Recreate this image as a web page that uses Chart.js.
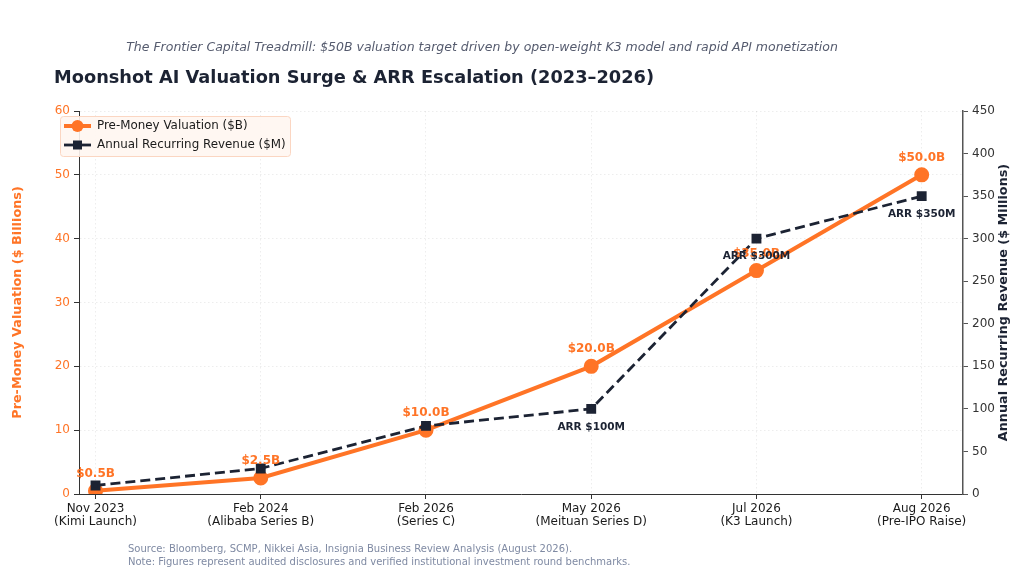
<!DOCTYPE html>
<html>
<head>
<meta charset="utf-8">
<script src="https://cdn.jsdelivr.net/npm/chart.js@4.4.1/dist/chart.umd.min.js"></script>
<style>
  html, body { margin: 0; padding: 0; background: #ffffff; }
  #wrap { position: relative; width: 1024px; height: 576px; font-family: "DejaVu Sans", sans-serif; }
  #chart { position: absolute; left: 0; top: 0; }
  .txt { position: absolute; white-space: nowrap; }
  #subtitle { left: 0; width: 964px; top: 39px; text-align: center; font-size: 12.5px; font-style: italic; color: #555b6e; }
  #title { left: 54px; top: 66px; font-size: 17.8px; font-weight: bold; color: #1c2333; }
  #footer { left: 128px; top: 543px; font-size: 10px; line-height: 12.5px; color: #7f8aa3; }
</style>
</head>
<body>
<div id="wrap">
  <canvas id="chart" width="1024" height="576"></canvas>
  <div class="txt" id="subtitle">The Frontier Capital Treadmill: $50B valuation target driven by open-weight K3 model and rapid API monetization</div>
  <div class="txt" id="title">Moonshot AI Valuation Surge &amp; ARR Escalation (2023–2026)</div>
  <div class="txt" id="footer">Source: Bloomberg, SCMP, Nikkei Asia, Insignia Business Review Analysis (August 2026).<br>Note: Figures represent audited disclosures and verified institutional investment round benchmarks.</div>
</div>
<script>
// Chart data
const roundLabels = [
    ['Nov 2023', '(Kimi Launch)'],
    ['Feb 2024', '(Alibaba Series B)'],
    ['Feb 2026', '(Series C)'],
    ['May 2026', '(Meituan Series D)'],
    ['Jul 2026', '(K3 Launch)'],
    ['Aug 2026', '(Pre-IPO Raise)']
];
const valuationB = [0.5, 2.5, 10, 20, 35, 50];
const arrM = [10, 30, 80, 100, 300, 350];
const arrLabelIdx = [3, 4, 5];
const valuationTicks = [0, 10, 20, 30, 40, 50, 60];
const arrTicks = [0, 50, 100, 150, 200, 250, 300, 350, 400, 450];

const ORANGE = '#ff7426';
const NAVY = '#1c2333';
const FONT = '"DejaVu Sans", sans-serif';
const GRID_DASH = [1.5, 2.5];

// Data labels, axis titles and the in-plot legend
const annotatePlugin = {
    id: 'annotate',
    afterDatasetsDraw(chart) {
        const ctx = chart.ctx;
        const area = chart.chartArea;
        const x = chart.scales.x;
        const yl = chart.scales.yVal;
        const yr = chart.scales.yArr;
        ctx.save();
        ctx.textAlign = 'center';
        ctx.textBaseline = 'middle';

        // valuation labels
        ctx.font = 'bold 12px ' + FONT;
        ctx.fillStyle = ORANGE;
        valuationB.forEach((v, i) => {
            ctx.fillText('$' + v.toFixed(1) + 'B', x.getPixelForValue(i), yl.getPixelForValue(v) - 17);
        });

        // ARR labels
        ctx.font = 'bold 10.5px ' + FONT;
        ctx.fillStyle = NAVY;
        arrLabelIdx.forEach(i => {
            ctx.fillText('ARR $' + arrM[i] + 'M', x.getPixelForValue(i), yr.getPixelForValue(arrM[i]) + 18);
        });

        // axis titles, both reading bottom to top
        const midY = (area.top + area.bottom) / 2;
        ctx.font = 'bold 12.8px ' + FONT;
        ctx.save();
        ctx.translate(18, midY);
        ctx.rotate(-Math.PI / 2);
        ctx.fillStyle = ORANGE;
        ctx.fillText('Pre-Money Valuation ($ Billions)', 0, 0);
        ctx.restore();
        ctx.save();
        ctx.translate(1004, midY);
        ctx.rotate(-Math.PI / 2);
        ctx.fillStyle = NAVY;
        ctx.fillText('Annual Recurring Revenue ($ Millions)', 0, 0);
        ctx.restore();

        // legend box
        const lx = 60, ly = 116, lw = 230, lh = 40;
        ctx.fillStyle = 'rgba(255, 246, 241, 0.9)';
        ctx.strokeStyle = '#fbd6c2';
        ctx.lineWidth = 1;
        ctx.beginPath();
        ctx.roundRect(lx + 0.5, ly + 0.5, lw, lh, 3);
        ctx.fill();
        ctx.stroke();

        // entry 1
        ctx.strokeStyle = ORANGE;
        ctx.lineWidth = 4;
        ctx.setLineDash([]);
        ctx.beginPath();
        ctx.moveTo(64, 126);
        ctx.lineTo(91, 126);
        ctx.stroke();
        ctx.fillStyle = ORANGE;
        ctx.beginPath();
        ctx.arc(77.5, 126, 6, 0, Math.PI * 2);
        ctx.fill();

        // entry 2
        ctx.strokeStyle = NAVY;
        ctx.lineWidth = 2.8;
        ctx.beginPath();
        ctx.moveTo(64, 145);
        ctx.lineTo(91, 145);
        ctx.stroke();
        ctx.fillStyle = NAVY;
        ctx.fillRect(73, 140.5, 9, 9);

        ctx.textAlign = 'left';
        ctx.font = '11.9px ' + FONT;
        ctx.fillStyle = '#1a1a1a';
        ctx.fillText('Pre-Money Valuation ($B)', 97, 126);
        ctx.fillText('Annual Recurring Revenue ($M)', 97, 145);
        ctx.restore();
    }
};

new Chart(document.getElementById('chart').getContext('2d'), {
    type: 'line',
    data: {
        datasets: [
            {
                label: 'Annual Recurring Revenue ($M)',
                data: arrM.map((v, i) => ({ x: i, y: v })),
                yAxisID: 'yArr',
                borderColor: NAVY,
                backgroundColor: NAVY,
                borderWidth: 2.8,
                borderDash: [10, 5],
                pointStyle: 'rect',
                pointRadius: 5,
                pointHoverRadius: 5,
                order: 1
            },
            {
                label: 'Pre-Money Valuation ($B)',
                data: valuationB.map((v, i) => ({ x: i, y: v })),
                yAxisID: 'yVal',
                borderColor: ORANGE,
                backgroundColor: ORANGE,
                borderWidth: 4,
                pointStyle: 'circle',
                pointRadius: 5.5,
                pointHoverRadius: 5.5,
                order: 2
            }
        ]
    },
    options: {
        responsive: false,
        animation: false,
        layout: { padding: { top: 111, left: 0, right: 0, bottom: 0 } },
        plugins: {
            legend: { display: false },
            tooltip: { enabled: false }
        },
        scales: {
            x: {
                type: 'linear',
                min: -0.1,
                max: 5.25,
                afterFit(scale) { scale.height = 82; },
                afterBuildTicks(scale) { scale.ticks = roundLabels.map((l, i) => ({ value: i })); },
                ticks: {
                    callback: v => roundLabels[v],
                    color: '#1a1a1a',
                    font: { family: FONT, size: 12, lineHeight: 1.1 },
                    padding: 3,
                    maxRotation: 0
                },
                grid: {
                    color: 'rgba(0,0,0,0.07)',
                    tickColor: '#333',
                    tickLength: 5
                },
                border: { color: '#333', width: 1, dash: GRID_DASH }
            },
            yVal: {
                position: 'left',
                min: 0,
                max: 60,
                afterFit(scale) { scale.width = 79; },
                afterBuildTicks(scale) { scale.ticks = valuationTicks.map(v => ({ value: v })); },
                ticks: {
                    color: ORANGE,
                    font: { family: FONT, size: 12 },
                    padding: 4
                },
                grid: {
                    color: 'rgba(0,0,0,0.07)',
                    tickColor: '#333',
                    tickLength: 5
                },
                border: { color: '#333', width: 1, dash: GRID_DASH }
            },
            yArr: {
                position: 'right',
                min: 0,
                max: 450,
                afterFit(scale) { scale.width = 61; },
                afterBuildTicks(scale) { scale.ticks = arrTicks.map(v => ({ value: v })); },
                ticks: {
                    color: '#333',
                    font: { family: FONT, size: 12 },
                    padding: 4
                },
                grid: {
                    drawOnChartArea: false,
                    tickColor: '#555',
                    tickLength: 5
                },
                border: { color: '#555', width: 1.5 }
            }
        }
    },
    plugins: [annotatePlugin]
});
</script>
</body>
</html>
